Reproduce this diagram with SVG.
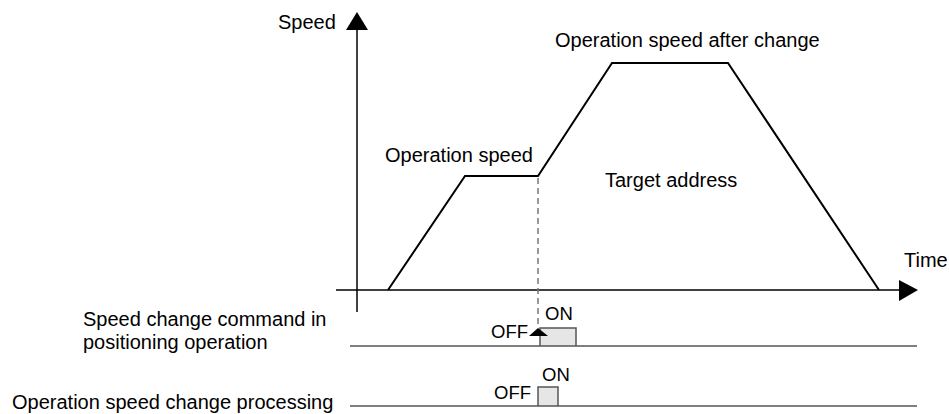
<svg xmlns="http://www.w3.org/2000/svg" width="949" height="414" viewBox="0 0 949 414">
<style>
text{font-family:"Liberation Sans",Arial,sans-serif;font-size:20px;fill:#000}
.s{font-size:18.5px}
.ax{stroke:#000;stroke-width:1.5;fill:none}
.pr{stroke:#000;stroke-width:2;fill:none;stroke-linejoin:miter}
.sig{stroke:#555;stroke-width:1.5;fill:#e6e6e6}
.bl{stroke:#555;stroke-width:1.5;fill:none}
.dash{stroke:#777;stroke-width:1.5;stroke-dasharray:6 4;fill:none}
</style>
<rect width="949" height="414" fill="#fff"/>
<g id="axes">
<line class="ax" x1="357" y1="28" x2="357" y2="312"/>
<polygon points="357,12 368,30 346,30" fill="#000"/>
<line class="ax" x1="336" y1="290" x2="901" y2="290"/>
<polygon points="918,290 899,280 899,301" fill="#000"/>
<text x="278" y="29">Speed</text>
<text x="904" y="267">Time</text>
</g>
<g id="profile">
<polyline class="pr" points="388,290 465,176 538,176 612,63 728,63 879,290"/>
<text x="385" y="162">Operation speed</text>
<text x="555" y="47">Operation speed after change</text>
<text x="605" y="187">Target address</text>
</g>
<g id="signal1">
<text x="83" y="326">Speed change command in</text>
<text x="83" y="349">positioning operation</text>
<polyline class="sig" points="540,346 540,328 576,328 576,346"/>
<line class="bl" x1="350" y1="346" x2="917" y2="346"/>
<text class="s" x="491" y="338">OFF</text>
<text class="s" x="545" y="320">ON</text>
</g>
<g id="signal2">
<text x="12" y="409">Operation speed change processing</text>
<polyline class="sig" points="538,406 538,387 558,387 558,406"/>
<line class="bl" x1="350" y1="406" x2="917" y2="406"/>
<text class="s" x="494" y="399">OFF</text>
<text class="s" x="542" y="381">ON</text>
</g>
<g id="connectors">
<line class="dash" x1="538" y1="178" x2="538" y2="328"/>
<polygon points="538,328 548,336 529,336" fill="#000"/>
</g>
</svg>
